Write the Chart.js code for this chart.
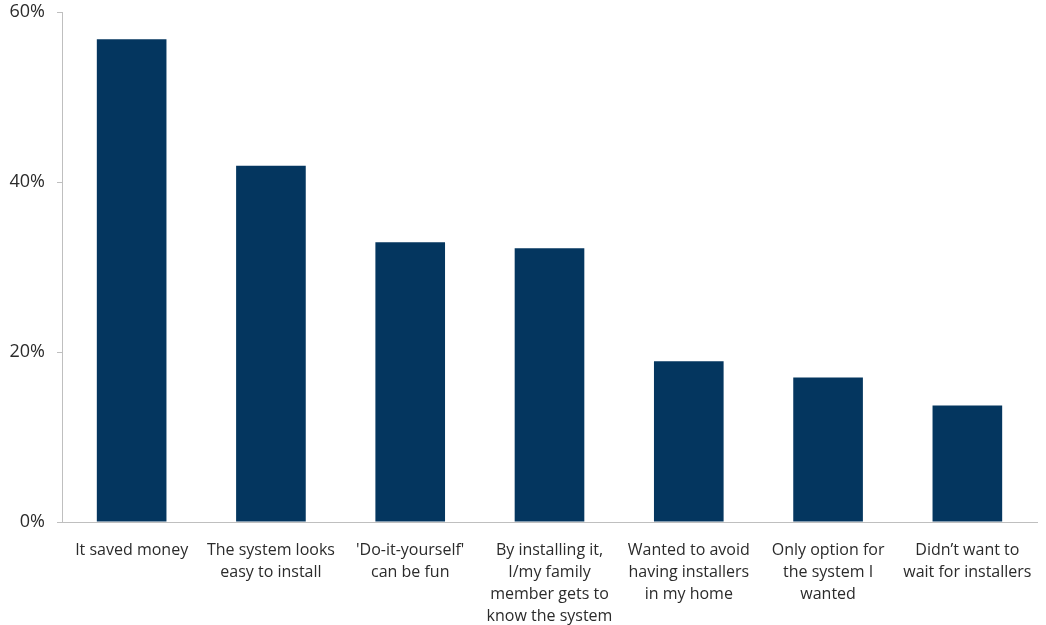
<!DOCTYPE html>
<html>
<head>
<meta charset="utf-8">
<script src="https://cdn.jsdelivr.net/npm/chart.js@4/dist/chart.umd.min.js"></script>
<style>
    html, body { margin: 0; padding: 0; background: #ffffff; }
    #wrap { width: 1046px; height: 625px; position: relative; }
</style>
</head>
<body>
<div id="wrap"><canvas id="chart"></canvas></div>
<script>

const categories = [
    ["It saved money"],
    ["The system looks", "easy to install"],
    ["'Do-it-yourself'", "can be fun"],
    ["By installing it,", "I/my family", "member gets to", "know the system"],
    ["Wanted to avoid", "having installers", "in my home"],
    ["Only option for", "the system I", "wanted"],
    ["Didn\u2019t want to", "wait for installers"]
];

const shares = [56.8, 41.9, 32.9, 32.2, 18.9, 17.0, 13.7];

const yTicks = [0, 20, 40, 60];

const fontFamily =
    "'Open Sans', 'Liberation Sans', sans-serif";

new Chart(document.getElementById("chart"), {

    type: "bar",

    data: {
        labels: categories,
        datasets: [{
            data: shares,
            backgroundColor: "#04365f",
            barPercentage: 0.5,
            categoryPercentage: 1
        }]
    },

    options: {
        responsive: true,
        maintainAspectRatio: false,
        animation: false,
        layout: {
            padding: { top: 12, right: 9, bottom: 0, left: 0 }
        },
        plugins: {
            legend: { display: false },
            tooltip: { enabled: false }
        },
        scales: {
            x: {
                grid: { display: false },
                border: { display: true, color: "#bfbfbf", width: 1 },
                ticks: {
                    color: "#2b2b2b",
                    font: { family: fontFamily, size: 16, lineHeight: 1.375 },
                    maxRotation: 0,
                    autoSkip: false,
                    padding: 9
                },
                afterFit: (scale) => {
                    scale.height = 103;
                    scale.paddingLeft = 0;
                    scale.paddingRight = 0;
                }
            },
            y: {
                min: 0,
                max: 60,
                afterBuildTicks: (scale) => {
                    scale.ticks = yTicks.map(v => ({ value: v }));
                },
                grid: {
                    drawOnChartArea: false,
                    drawTicks: true,
                    tickLength: 5,
                    color: "#bfbfbf"
                },
                border: { display: true, color: "#bfbfbf", width: 1 },
                ticks: {
                    color: "#2b2b2b",
                    font: { family: fontFamily, size: 18 },
                    padding: 12,
                    callback: (v) => v + "%"
                },
                afterFit: (scale) => {
                    scale.width = 62;
                    scale.paddingTop = 0;
                    scale.paddingBottom = 0;
                }
            }
        }
    }

});

</script>
</body>
</html>
